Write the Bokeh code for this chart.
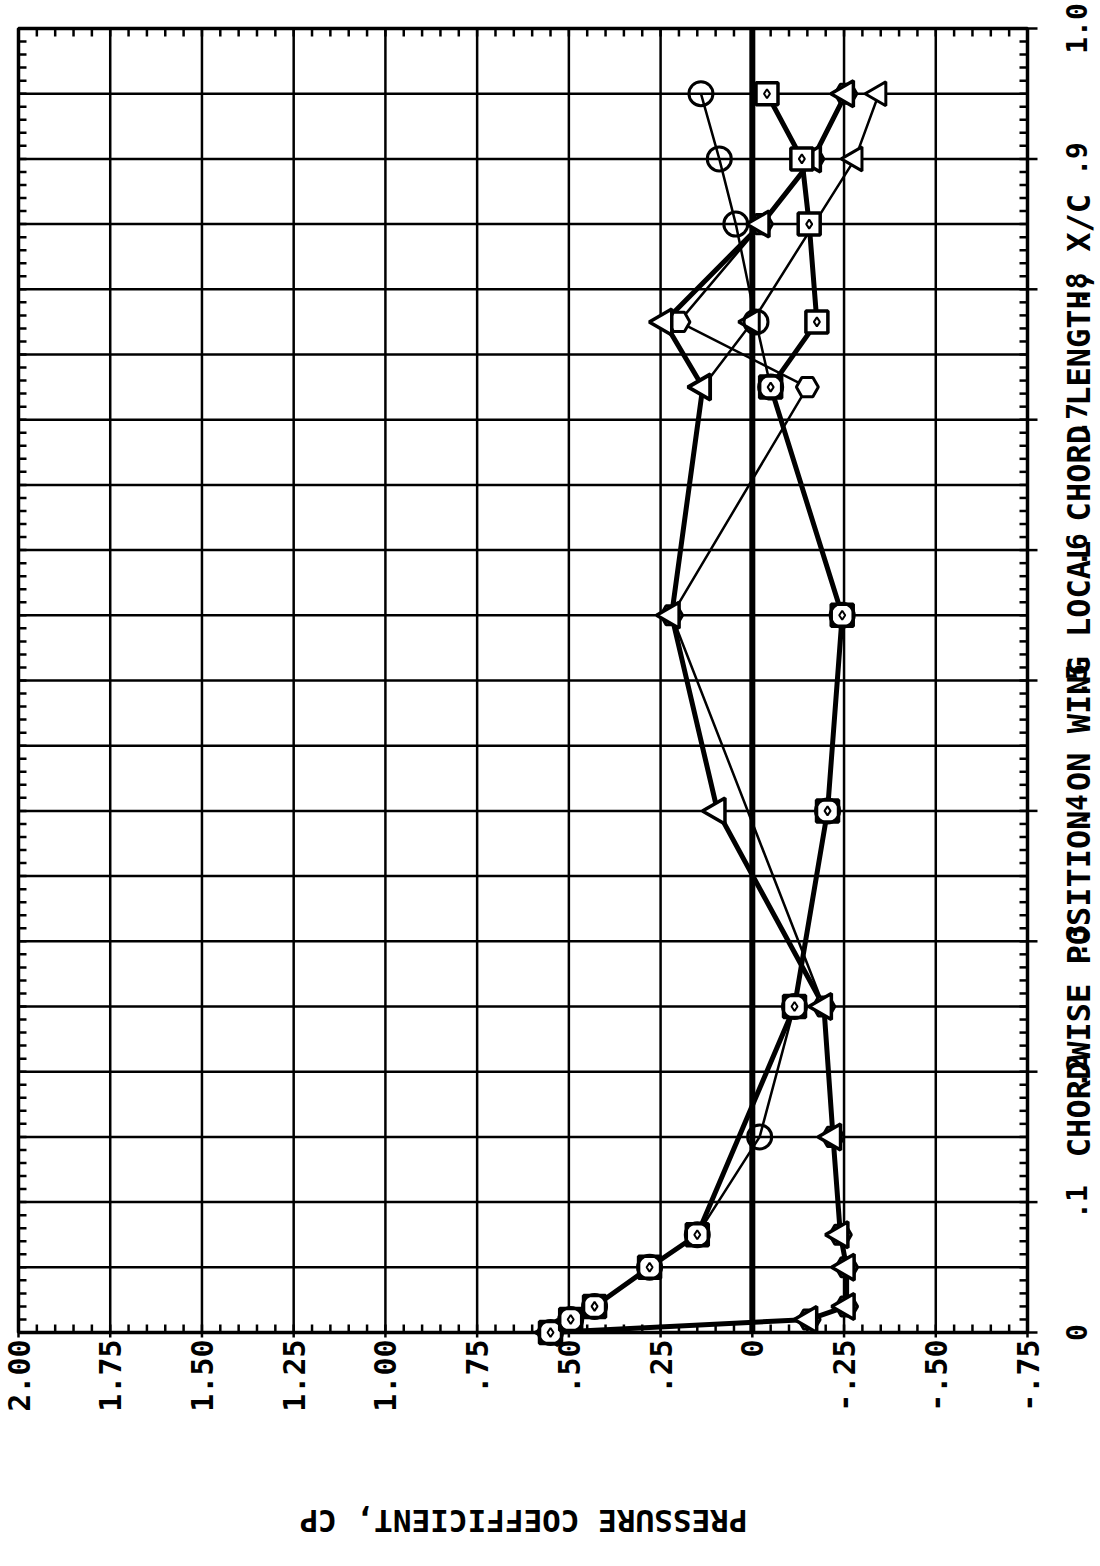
import math
from bokeh.plotting import figure
from bokeh.models import Range1d
from bokeh.core.properties import value
from bokeh.embed import file_html
from bokeh.resources import INLINE

# ---- data (x/c = chordwise position, cp = pressure coefficient) ----
xc_a = [0.0, 0.01, 0.02, 0.05, 0.075, 0.15, 0.25, 0.40, 0.55, 0.725, 0.775, 0.85, 0.90, 0.95]
cp_a = [0.55, 0.495, 0.43, 0.28, 0.15, -0.02, -0.115, -0.205, -0.245, -0.05, -0.01, 0.045, 0.09, 0.14]

xc_b = [0.0, 0.01, 0.02, 0.05, 0.075, 0.25, 0.40, 0.55, 0.725, 0.775, 0.85, 0.90, 0.95]
cp_b = [0.55, 0.495, 0.43, 0.28, 0.15, -0.115, -0.205, -0.245, -0.05, -0.176, -0.155, -0.135, -0.04]

xc_c = [0.0, 0.01, 0.02, 0.05, 0.075, 0.15, 0.25, 0.40, 0.55, 0.725, 0.775, 0.85, 0.90, 0.95]
cp_c = [0.55, -0.155, -0.257, -0.257, -0.24, -0.22, -0.195, 0.095, 0.22, 0.135, 0.24, -0.025, -0.165, -0.255]

xc_d = [0.0, 0.01, 0.02, 0.05, 0.075, 0.15, 0.25, 0.55, 0.725, 0.775, 0.85, 0.90, 0.95]
cp_d = [0.55, -0.155, -0.257, -0.257, -0.24, -0.22, -0.195, 0.22, -0.15, 0.20, -0.025, -0.165, -0.255]

xc_e = [0.725, 0.775, 0.90, 0.95]
cp_e = [0.135, 0.0, -0.28, -0.345]

cp_ticks = [2.0, 1.75, 1.5, 1.25, 1.0, 0.75, 0.5, 0.25, 0.0, -0.25, -0.5, -0.75]
cp_tick_labels = ["2.00", "1.75", "1.50", "1.25", "1.00", ".75", ".50", ".25", "0", "-.25", "-.50", "-.75"]
xc_ticks = [0.0, 0.1, 0.2, 0.3, 0.4, 0.5, 0.6, 0.7, 0.8, 0.9, 1.0]
xc_tick_labels = ["0", ".1", ".2", ".3", ".4", ".5", ".6", ".7", ".8", ".9", "1.0"]
xc_grid = [i * 0.05 for i in range(21)]
cp_minor = [2.0 - i * 0.05 for i in range(56)]
xc_minor = [i * 0.01 for i in range(101)]

title_x = "CHORDWISE POSITION ON WING LOCAL CHORD LENGTH, X/C"
title_cp = "PRESSURE COEFFICIENT, CP"

# ---- layout (pixels) ----
FONT = "DejaVu Sans Mono"
W, H = 1098, 1550                 # canvas
L, R, T, B = 18, 1027, 28, 1332   # plotting area on the canvas
CP_LEFT, CP_RIGHT = cp_ticks[0], cp_ticks[-1]
XC_BOT, XC_TOP = xc_ticks[0], xc_ticks[-1]
cpp = (CP_LEFT - CP_RIGHT) / (R - L)   # cp per pixel
xpp = (XC_TOP - XC_BOT) / (B - T)      # x/c per pixel

def cpx(px):
    return CP_LEFT - (px - L) * cpp

def xcy(py):
    return XC_TOP - (py - T) * xpp

p = figure(width=W, height=H,
           x_range=Range1d(cpx(0), cpx(W)), y_range=Range1d(xcy(H), xcy(0)),
           output_backend="svg", toolbar_location=None,
           x_axis_location=None, y_axis_location=None, min_border=0)
p.background_fill_color = "white"
p.border_fill_color = "white"
p.outline_line_color = None
p.xgrid.visible = False
p.ygrid.visible = False

K = "black"
n_cp, n_xg = len(cp_ticks), len(xc_grid)

# grid lines
p.segment(x0=cp_ticks, y0=[XC_BOT] * n_cp, x1=cp_ticks, y1=[XC_TOP] * n_cp, line_color=K, line_width=2.5)
p.segment(x0=[CP_LEFT] * n_xg, y0=xc_grid, x1=[CP_RIGHT] * n_xg, y1=xc_grid, line_color=K, line_width=2.5)
p.quad(left=[CP_LEFT], right=[CP_RIGHT], bottom=[XC_BOT], top=[XC_TOP], fill_color=None, line_color=K, line_width=3.5)
p.segment(x0=[0.0], y0=[XC_BOT], x1=[0.0], y1=[XC_TOP], line_color=K, line_width=6)

# inward minor ticks on all four edges
tk = 8
n_cm, n_xm = len(cp_minor), len(xc_minor)
p.segment(x0=cp_minor, y0=[XC_BOT] * n_cm, x1=cp_minor, y1=[XC_BOT + tk * xpp] * n_cm, line_color=K, line_width=2.5)
p.segment(x0=cp_minor, y0=[XC_TOP] * n_cm, x1=cp_minor, y1=[XC_TOP - tk * xpp] * n_cm, line_color=K, line_width=2.5)
p.segment(x0=[CP_LEFT] * n_xm, y0=xc_minor, x1=[CP_LEFT - tk * cpp] * n_xm, y1=xc_minor, line_color=K, line_width=2.5)
p.segment(x0=[CP_RIGHT] * n_xm, y0=xc_minor, x1=[CP_RIGHT + tk * cpp] * n_xm, y1=xc_minor, line_color=K, line_width=2.5)
# outward major ticks
n_xt = len(xc_ticks)
p.segment(x0=[CP_RIGHT] * n_xt, y0=xc_ticks, x1=[CP_RIGHT - 10 * cpp] * n_xt, y1=xc_ticks, line_color=K, line_width=2.5)
p.segment(x0=cp_ticks, y0=[XC_BOT] * n_cp, x1=cp_ticks, y1=[XC_BOT - 5 * xpp] * n_cp, line_color=K, line_width=2.5)

# series lines
p.line(cp_a, xc_a, line_color=K, line_width=2.5)
p.line(cp_b, xc_b, line_color=K, line_width=5)
p.line(cp_c, xc_c, line_color=K, line_width=5)
p.line(cp_d, xc_d, line_color=K, line_width=2.5)
p.line(cp_e, xc_e, line_color=K, line_width=2.5)

# markers
p.scatter(cp_d, xc_d, marker="hex", size=22, fill_color="white", line_color=K, line_width=3)
p.scatter(cp_c, xc_c, marker="triangle", angle=math.pi / 2, size=26, fill_color="white", line_color=K, line_width=3.5)
p.scatter(cp_e, xc_e, marker="triangle", angle=math.pi / 2, size=24, fill_color="white", line_color=K, line_width=3)
p.scatter(cp_b, xc_b, marker="square", size=22, fill_color="white", line_color=K, line_width=3.5)
p.scatter(cp_b, xc_b, marker="diamond", size=9, fill_color="white", line_color=K, line_width=2)
p.scatter(cp_a, xc_a, marker="circle", size=24, fill_color=None, line_color=K, line_width=3)

# tick labels (rotated, as on the original sheet)
txt = dict(text_font=value(FONT), text_font_style="bold", text_color=K)
p.text(x=cp_ticks, y=[XC_BOT - 7 * xpp] * n_cp, text=cp_tick_labels, angle=math.pi / 2,
       text_align="right", text_baseline="middle", text_font_size="30px", **txt)
p.text(x=[cpx(1076)] * n_xt, y=xc_ticks, text=xc_tick_labels, angle=math.pi / 2,
       text_align="center", text_baseline="middle", text_font_size="28px", **txt)

# axis titles
p.text(x=[cpx(1078)], y=[xcy(675)], text=[title_x], angle=math.pi / 2,
       text_align="center", text_baseline="middle", text_font_size="32px", **txt)
p.text(x=[cpx(523)], y=[xcy(1520)], text=[title_cp], angle=math.pi,
       text_align="center", text_baseline="middle", text_font_size="31px", **txt)

open("out.html", "w").write(file_html(p, INLINE))
